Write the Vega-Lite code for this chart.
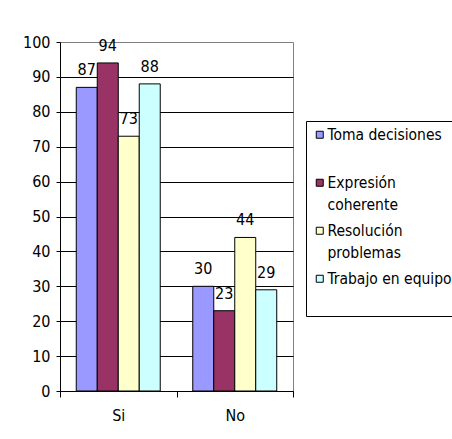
{
  "$schema": "https://vega.github.io/schema/vega-lite/v6.json",
  "width": 233,
  "height": 349,
  "autosize": {"type": "none"},
  "padding": {"left": 60, "top": 42, "right": 159, "bottom": 48},
  "background": "white",
  "config": {
    "font": "DejaVu Sans Condensed",
    "view": {"stroke": "#808080", "strokeWidth": 1},
    "style": {"guide-label": {"lineHeight": 22}},
    "legend": {
      "orient": "none",
      "legendX": 246,
      "legendY": 79,
      "title": null,
      "symbolType": "square",
      "symbolSize": 49,
      "symbolStrokeColor": "black",
      "symbolStrokeWidth": 1,
      "labelFontSize": 15.5,
      "labelColor": "black",
      "labelLimit": 400,
      "labelOffset": 0,
      "strokeColor": "black",
      "fillColor": "white",
      "padding": 6,
      "rowPadding": 9
    }
  },
  "data": {
    "values": [
      {"cat": "Si", "serie": "Toma decisiones", "v": 87},
      {"cat": "Si", "serie": "Expresión coherente", "v": 94},
      {"cat": "Si", "serie": "Resolución problemas", "v": 73},
      {"cat": "Si", "serie": "Trabajo en equipo", "v": 88},
      {"cat": "No", "serie": "Toma decisiones", "v": 30},
      {"cat": "No", "serie": "Expresión coherente", "v": 23},
      {"cat": "No", "serie": "Resolución problemas", "v": 44},
      {"cat": "No", "serie": "Trabajo en equipo", "v": 29}
    ]
  },
  "encoding": {
    "x": {
      "field": "cat",
      "type": "nominal",
      "sort": ["Si", "No"],
      "scale": {"paddingInner": 0, "paddingOuter": 0},
      "axis": {
        "title": null,
        "labelAngle": 0,
        "tickBand": "extent",
        "domainColor": "black",
        "tickColor": "black",
        "tickSize": 6,
        "labelFontSize": 16,
        "labelPadding": 10,
        "labelColor": "black",
        "grid": false
      }
    },
    "y": {
      "field": "v",
      "type": "quantitative",
      "scale": {"domain": [0, 100]},
      "axis": {
        "title": null,
        "values": [0, 10, 20, 30, 40, 50, 60, 70, 80, 90, 100],
        "domainColor": "black",
        "tickColor": "black",
        "tickSize": 4,
        "labelPadding": 6,
        "labelFontSize": 16,
        "labelColor": "black",
        "grid": true,
        "gridOpacity": 1,
        "gridColor": {"condition": {"test": "datum.value == 100", "value": "#808080"}, "value": "black"}
      }
    },
    "xOffset": {
      "field": "serie",
      "type": "nominal",
      "sort": ["Toma decisiones", "Expresión coherente", "Resolución problemas", "Trabajo en equipo"],
      "scale": {"paddingInner": 0, "paddingOuter": 0.774}
    }
  },
  "layer": [
    {
      "mark": {"type": "bar", "stroke": "black", "strokeWidth": 1},
      "encoding": {
        "color": {
          "field": "serie",
          "type": "nominal",
          "scale": {
            "domain": ["Toma decisiones", "Expresión coherente", "Resolución problemas", "Trabajo en equipo"],
            "range": ["#9999FF", "#993366", "#FFFFCC", "#CCFFFF"]
          },
          "legend": {
            "labelExpr": "datum.label == 'Expresión coherente' ? ['Expresión', 'coherente'] : datum.label == 'Resolución problemas' ? ['Resolución', 'problemas'] : [datum.label, ' ']"
          }
        }
      }
    },
    {
      "mark": {"type": "text", "baseline": "alphabetic", "dy": -12, "fontSize": 16, "color": "black"},
      "encoding": {"text": {"field": "v", "type": "quantitative"}}
    }
  ]
}
